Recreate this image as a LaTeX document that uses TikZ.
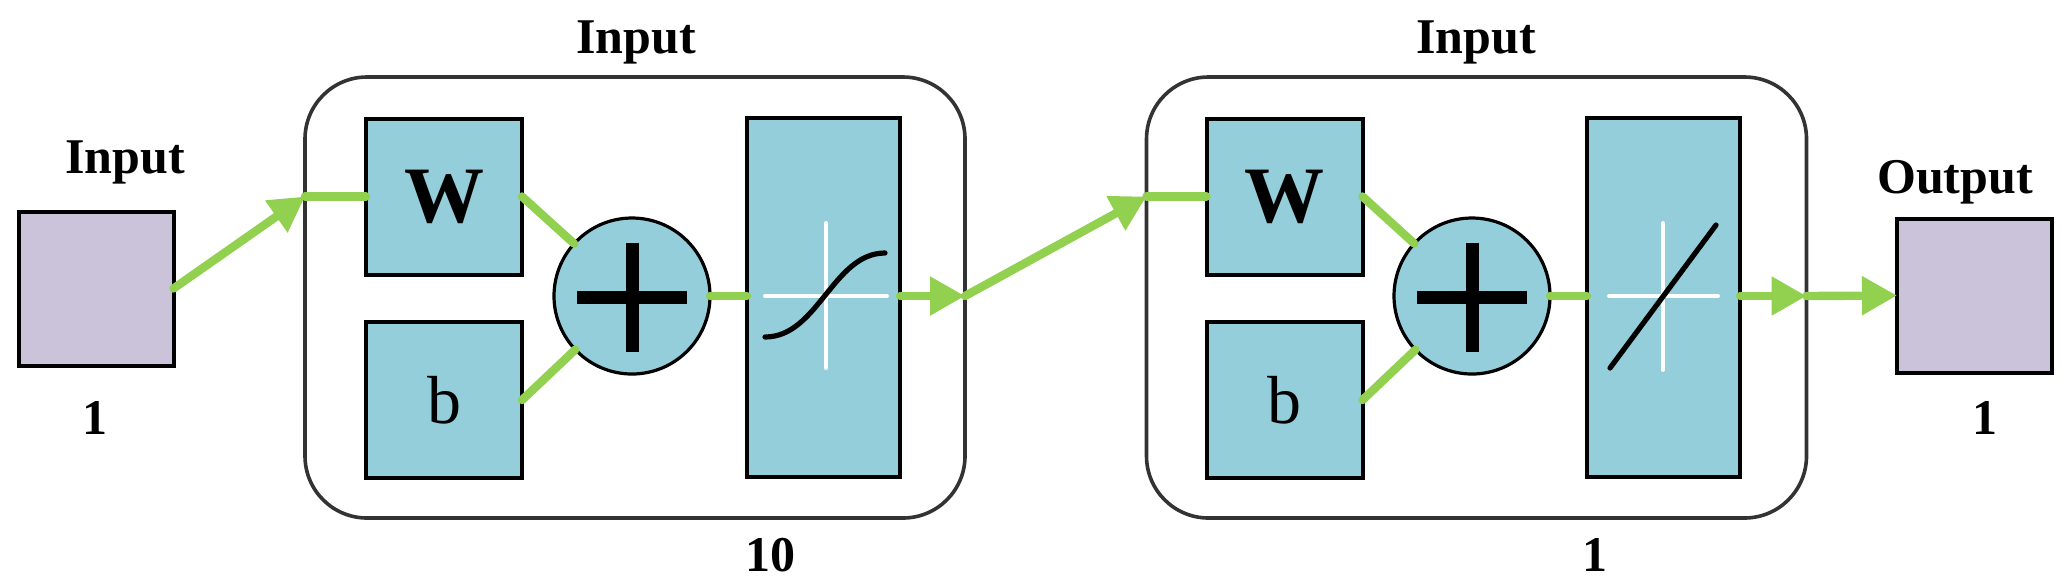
\documentclass[tikz,border=0pt]{standalone}
\usepackage{fontspec}
\setmainfont{Liberation Serif}
\usetikzlibrary{arrows.meta}
\definecolor{nnblue}{RGB}{148,206,219}
\definecolor{nnpurple}{RGB}{203,195,218}
\definecolor{nngreen}{RGB}{146,208,80}
\definecolor{nnframe}{RGB}{51,51,51}
\begin{document}
\begin{tikzpicture}[x=0.5pt,y=-0.5pt,
  iobox/.style={draw=black, line width=2pt, fill=nnpurple, inner sep=0pt, outer sep=0pt, minimum width=77.5pt, minimum height=77pt},
  layerbox/.style={draw=nnframe, line width=1.8pt, rounded corners=31pt, inner sep=0pt, outer sep=0pt, minimum width=330pt, minimum height=220.5pt},
  bluebox/.style={draw=black, line width=2pt, fill=nnblue, inner sep=0pt, outer sep=0pt, minimum width=78pt, minimum height=78pt, font=\fontsize{34pt}{34pt}\selectfont},
  wbox/.style={bluebox, font=\fontsize{40pt}{40pt}\selectfont\bfseries},
  actbox/.style={draw=black, line width=2pt, fill=nnblue, inner sep=0pt, outer sep=0pt, minimum width=76.5pt, minimum height=179.5pt},
  sumnode/.style={circle, draw=black, line width=1.6pt, fill=nnblue, inner sep=0pt, outer sep=0pt, minimum size=78pt},
  lbl/.style={font=\fontsize{25pt}{25pt}\selectfont\bfseries, inner sep=0pt, anchor=base},
  wire/.style={draw=nngreen, line width=4.2pt, line cap=round},
  arr/.style={wire, -{Triangle[length=17.5pt,width=18.5pt]}},
  plusbar/.style={line width=6.5pt},
  crossline/.style={draw=white, line width=2pt, line cap=round},
  curveline/.style={draw=black, line width=2.6pt, line cap=round}
]
\useasboundingbox (0,0) rectangle (2066,586);

% outer layer frames
\node[layerbox] (L1) at (635,297.5) {};
\node[layerbox] (L2) at (1476.5,297.5) {};

% input / output boxes
\node[iobox] (inp) at (96,288.5) {};
\node[iobox] (out) at (1974.5,295.5) {};

% layer 1
\node[wbox] (W1) at (444,196.5) {W};
\node[bluebox] (b1) at (444,400) {b};
\node[sumnode] (S1) at (632,296) {};
\node[actbox] (A1) at (823.5,297.5) {};

% layer 2
\node[wbox] (W2) at (1284.5,196.5) {W};
\node[bluebox] (b2) at (1284.5,400) {b};
\node[sumnode] (S2) at (1472,296) {};
\node[actbox] (A2) at (1663.5,297.5) {};

% plus signs
\draw[plusbar] (577,297.5) -- (687,297.5) (632,243) -- (632,352);
\draw[plusbar] (1417,297.5) -- (1527,297.5) (1472,243) -- (1472,352);

% sigmoid symbol
\draw[crossline] (765,296) -- (887,296) (826,223) -- (826,368);
\draw[curveline] (765,337) .. controls (818,337) and (833,253) .. (885,253);

% linear symbol
\draw[crossline] (1609,296) -- (1718,296) (1663,223) -- (1663,370);
\draw[curveline] (1610,368) -- (1716,225);

% connectors
\coordinate (L1in) at (L1.west |- W1.west);
\coordinate (L1out) at (L1.east |- S1.east);
\coordinate (L2in) at (L2.west |- W2.west);
\coordinate (L2out) at (L2.east |- S2.east);

\draw[arr] (inp.east) -- (L1in);
\draw[wire] (L1in) -- (W1.west);
\draw[wire] (W1.east) -- (S1);
\draw[wire] (b1.east) -- (S1);
\draw[wire] (S1.east) -- (A1.west |- S1.east);
\draw[arr] (A1.east |- S1.east) -- (L1out);
\draw[arr] (L1out) -- (L2in);
\draw[wire] (L2in) -- (W2.west);
\draw[wire] (W2.east) -- (S2);
\draw[wire] (b2.east) -- (S2);
\draw[wire] (S2.east) -- (A2.west |- S2.east);
\draw[arr] (A2.east |- S2.east) -- (L2out);
\draw[arr] (L2out) -- (out.west);

% labels
\node[lbl] (tin) at (125,173) {Input};
\node[lbl] (tl1) at (636,53) {Input};
\node[lbl] (tl2) at (1476,53) {Input};
\node[lbl] (tout) at (1955,193) {Output};
\node[lbl] (nin) at (95,434) {1};
\node[lbl] (nl1) at (770,571) {10};
\node[lbl] (nl2) at (1595,571) {1};
\node[lbl] (nout) at (1985,434) {1};
\end{tikzpicture}
\end{document}
